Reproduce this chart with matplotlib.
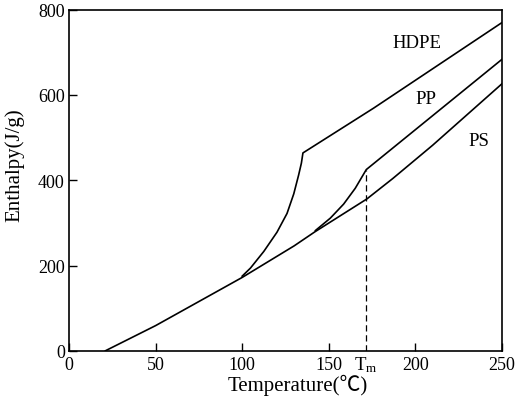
import matplotlib
matplotlib.use("Agg")
import matplotlib.pyplot as plt
import matplotlib.transforms as mtransforms

plt.rcParams['font.family'] = ['Liberation Serif', 'Noto Sans CJK SC', 'DejaVu Sans']
plt.rcParams['mathtext.fontset'] = 'custom'
plt.rcParams['mathtext.rm'] = 'Liberation Serif'
plt.rcParams['mathtext.it'] = 'Liberation Serif'

# Data
ps_T = [21, 50, 100, 130, 142, 172, 187, 210, 250]
ps_H = [0, 59, 172, 246, 279, 356, 404, 482, 626]

hdpe_T = [100, 104.8, 112.5, 120.1, 125.9, 129.8, 132.6, 134.2, 135.1, 175.9, 250.9]
hdpe_H = [175, 194, 233, 278, 322, 368, 412, 440, 464, 569, 772]

pp_T = [142.3, 150.9, 158.6, 165.3, 171.7, 249.9]
pp_H = [282, 311, 344, 381, 425, 683]

Tm = 171.5
Tm_H = 425

x_ticks = [0, 50, 100, 150, 200, 250]
y_ticks = [0, 200, 400, 600, 800]

labels = ["HDPE", "PP", "PS"]
label_pos = [(201, 724), (206, 591), (237, 493)]

fig = plt.figure(figsize=(5.19, 4.10), dpi=100)
ax = fig.add_axes([0.133, 0.142, 0.834, 0.832])

lw = 1.2
ax.plot(ps_T, ps_H, color='black', lw=lw)
ax.plot(hdpe_T, hdpe_H, color='black', lw=lw)
ax.plot(pp_T, pp_H, color='black', lw=lw)
ax.plot([Tm, Tm], [0, Tm_H], color='black', lw=0.9, ls=(0, (5, 3)))

for lab, (x, y) in zip(labels, label_pos):
    ax.text(x, y, lab, fontsize=13.5, ha='center', va='center')

ax.set_xlim(0, 250)
ax.set_ylim(0, 800)
ax.set_xticks(x_ticks)
ax.set_yticks(y_ticks)
ax.tick_params(direction='in', length=6, width=1.0, labelsize=13, pad=4)
ax.tick_params(axis='y', pad=3)

trans = mtransforms.blended_transform_factory(ax.transData, ax.transAxes)
ax.text(Tm, -0.04, r"T$_\mathrm{m}$", transform=trans, ha='center', va='center', fontsize=13.5)

for s in ax.spines.values():
    s.set_linewidth(1.2)

ax.set_xlabel("Temperature(℃)", fontsize=15)
ax.set_ylabel("Enthalpy(J/g)", fontsize=15)
ax.xaxis.set_label_coords(0.529, -0.068)
ax.yaxis.set_label_coords(-0.104, 0.547)

fig.savefig("out.png", dpi=100)
